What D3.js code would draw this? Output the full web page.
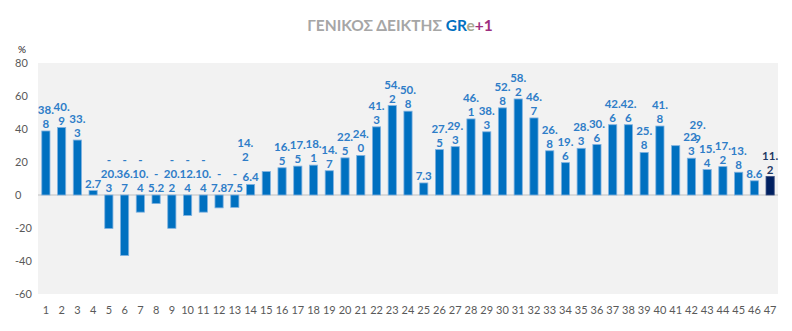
<!DOCTYPE html>
<html><head><meta charset="utf-8">
<script src="https://cdn.jsdelivr.net/npm/d3@7"></script>
<style>body{margin:0;background:#fff}svg{display:block}</style>
</head><body>
<svg id="c" width="792" height="331"></svg>
<script>
const categories = d3.range(1, 48).map(String);
const values = [38.8,40.9,33.3,2.7,-20.3,-36.7,-10.4,-5.2,-20.2,-12.4,-10.4,-7.8,-7.5,6.4,14.2,16.5,17.5,18.1,14.7,22.5,24.0,41.3,54.2,50.8,7.3,27.5,29.3,46.1,38.3,52.8,58.2,46.7,26.8,19.6,28.3,30.6,42.6,42.6,25.8,41.8,29.9,22.3,15.4,17.2,13.8,8.6,11.2];
const yTicks = [80,60,40,20,0,-20,-40,-60];

const svg = d3.select('#c');
const font = "Lato, 'Open Sans', sans-serif";
const x = d3.scaleBand().domain(categories).range([38, 778]).paddingInner(0.48).paddingOuter(0.24);
const y = d3.scaleLinear().domain([-60, 80]).range([294, 63]);

// plot background
svg.append('rect').attr('x', 38).attr('y', y(80)).attr('width', 740).attr('height', y(-60) - y(80)).attr('fill', '#f2f2f2');

// title
const t = svg.append('text').attr('x', 400).attr('y', 31).attr('text-anchor', 'middle')
  .attr('font-family', font).attr('font-weight', 'bold').attr('font-size', 15.5);
t.append('tspan').attr('fill', '#a6a6a6').text('ΓΕΝΙΚΟΣ ΔΕΙΚΤΗΣ ');
t.append('tspan').attr('fill', '#0070c0').text('GR');
t.append('tspan').attr('fill', '#a9a892').text('e');
t.append('tspan').attr('fill', '#9e2f7f').text('+1');

svg.append('text').attr('x', 18).attr('y', 53).attr('font-family', font).attr('font-size', 10).attr('fill', '#222').text('%');

// y tick labels
svg.append('g').selectAll('text').data(yTicks).join('text')
  .attr('x', 15).attr('y', d => y(d) + 4).attr('font-family', font).attr('font-size', 11).attr('fill', '#595959')
  .text(d => d);

// zero line
svg.append('line').attr('x1', 38).attr('x2', 778).attr('y1', y(0)).attr('y2', y(0)).attr('stroke', '#d9d9d9').attr('stroke-width', 2);

// bars
const last = categories.length - 1;
svg.append('g').selectAll('rect').data(values).join('rect')
  .attr('x', (d, i) => x(categories[i]))
  .attr('width', x.bandwidth())
  .attr('y', d => y(Math.max(0, d)))
  .attr('height', d => Math.abs(y(d) - y(0)))
  .attr('fill', (d, i) => i === last ? '#002060' : '#0070c0')
  .attr('stroke', (d, i) => i === last ? '#3a4f80' : '#7fb2e0')
  .attr('stroke-width', 0.8);

// x labels
svg.append('g').selectAll('text').data(categories).join('text')
  .attr('x', d => x(d) + x.bandwidth() / 2).attr('y', 314).attr('text-anchor', 'middle')
  .attr('font-family', font).attr('font-size', 11).attr('fill', '#595959').text(d => d);

// data labels (wrapped as in the reference)
function lines(v) {
  const s = Math.abs(v).toFixed(1);
  const p = s.length > 3 ? [s.slice(0, s.indexOf('.') + 1), s.slice(s.indexOf('.') + 1)] : [s];
  if (v < 0) p.unshift('-');
  return p;
}
const nudge = {14: [-21, -8], 40: [22, 0]}; // index -> [dx, dy]
const lh = 14;
values.forEach((v, i) => {
  const ls = lines(v);
  const cx = x(categories[i]) + x.bandwidth() / 2 + (nudge[i] ? nudge[i][0] : 0);
  const base = (v >= 0 ? y(v) - 3 : y(0) - 3) + (nudge[i] ? nudge[i][1] : 0);
  const txt = svg.append('text').attr('text-anchor', 'middle').attr('font-family', font)
    .attr('font-weight', 'bold').attr('font-size', 11.5)
    .attr('fill', i === last ? '#1f3864' : '#2e7dc8');
  ls.forEach((l, k) => {
    txt.append('tspan').attr('x', cx).attr('y', base - (ls.length - 1 - k) * lh).text(l);
  });
});
</script>
</body></html>
